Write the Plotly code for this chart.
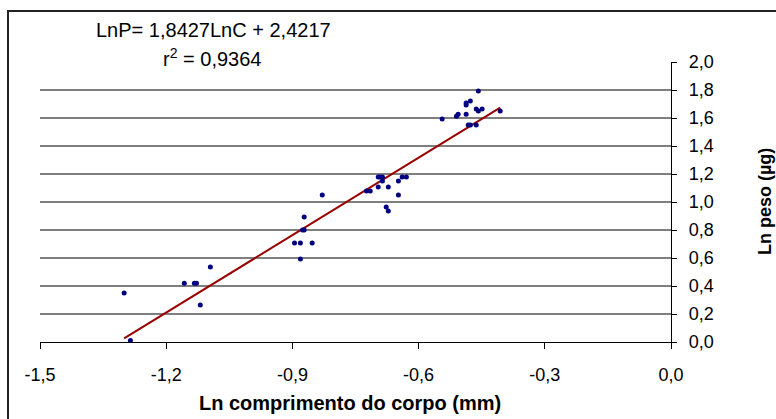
import plotly.graph_objects as go

# Data (Ln body length in mm, Ln weight in µg)
ln_c = [-1.300, -1.285, -1.157, -1.133, -1.128, -1.095, -1.119,
        -0.895, -0.881, -0.853, -0.881, -0.876, -0.872, -0.872, -0.829,
        -0.696, -0.691, -0.686, -0.639, -0.629, -0.686, -0.648, -0.696,
        -0.672, -0.724, -0.715, -0.648, -0.677, -0.672,
        -0.458, -0.477, -0.487, -0.487, -0.463, -0.458, -0.449, -0.406,
        -0.487, -0.506, -0.510, -0.544, -0.482, -0.477, -0.463]
ln_p = [0.350, 0.010, 0.420, 0.420, 0.420, 0.536, 0.264,
        0.707, 0.707, 0.707, 0.593, 0.800, 0.800, 0.893, 1.050,
        1.179, 1.179, 1.179, 1.179, 1.179, 1.150, 1.150, 1.107,
        1.107, 1.079, 1.079, 1.050, 0.964, 0.936,
        1.793, 1.721, 1.707, 1.693, 1.664, 1.650, 1.664, 1.650,
        1.626, 1.626, 1.612, 1.593, 1.550, 1.550, 1.550]

slope = 1.8427
intercept = 2.4217

x_ticks = [-1.5, -1.2, -0.9, -0.6, -0.3, 0.0]
x_tick_labels = ["-1,5", "-1,2", "-0,9", "-0,6", "-0,3", "0,0"]
y_ticks = [0.0, 0.2, 0.4, 0.6, 0.8, 1.0, 1.2, 1.4, 1.6, 1.8, 2.0]
y_tick_labels = ["0,0", "0,2", "0,4", "0,6", "0,8", "1,0", "1,2", "1,4", "1,6", "1,8", "2,0"]
grid_vals = [0.2, 0.4, 0.6, 0.8, 1.0, 1.2, 1.4, 1.6, 1.8]

fx = [min(ln_c), max(ln_c)]
fy = [slope * v + intercept for v in fx]

W, H = 776, 419
L, R, T, B = 40, 105, 62, 77
pw = W - L - R
ph = H - T - B

def px2paper_x(px):
    return (px - L) / pw

def px2paper_y(py):
    return (H - B - py) / ph

fig = go.Figure()
for v in grid_vals:
    fig.add_hline(y=v, line=dict(color="#000000", width=1.2), layer="below")

fig.add_trace(go.Scatter(x=fx, y=fy, mode="lines",
                         line=dict(color="#990000", width=2), showlegend=False))
fig.add_trace(go.Scatter(x=ln_c, y=ln_p, mode="markers",
                         marker=dict(color="#000080", size=5), showlegend=False))

font_main = "Liberation Sans, Arial, sans-serif"

fig.update_layout(
    width=W, height=H,
    margin=dict(l=L, r=R, t=T, b=B, autoexpand=False),
    paper_bgcolor="white", plot_bgcolor="white",
    font=dict(family=font_main, size=18, color="#000000"),
    xaxis=dict(range=[-1.5, 0.0], tickvals=x_ticks, ticktext=x_tick_labels,
               showgrid=False, zeroline=False, showline=True, linecolor="#000000",
               linewidth=1.2, ticks="outside", ticklen=6, tickcolor="#000000",
               tickfont=dict(size=18), ticklabelstandoff=10),
    yaxis=dict(range=[0.0, 2.0], tickvals=y_ticks, ticktext=y_tick_labels,
               side="right", showgrid=False, zeroline=False, showline=True,
               linecolor="#000000", linewidth=1.2, ticks="outside", ticklen=5,
               tickcolor="#000000", tickfont=dict(size=18), ticklabelstandoff=8),
)

fig.add_annotation(text="Ln comprimento do corpo (mm)", xref="paper", yref="paper",
                   x=px2paper_x(350), y=px2paper_y(403), showarrow=False,
                   font=dict(size=20, family=font_main, weight="bold"),
                   xanchor="center", yanchor="middle")
fig.add_annotation(text="Ln peso (µg)", xref="paper", yref="paper",
                   x=px2paper_x(765), y=px2paper_y(202), showarrow=False,
                   textangle=-90, font=dict(size=18, family=font_main, weight="bold"),
                   xanchor="center", yanchor="middle")
fig.add_annotation(text="LnP= 1,8427LnC + 2,4217", xref="paper", yref="paper",
                   x=px2paper_x(213), y=px2paper_y(30), showarrow=False,
                   font=dict(size=20, family=font_main),
                   xanchor="center", yanchor="middle")
fig.add_annotation(text="r<sup>2</sup> = 0,9364", xref="paper", yref="paper",
                   x=px2paper_x(212), y=px2paper_y(57), showarrow=False,
                   font=dict(size=20, family=font_main),
                   xanchor="center", yanchor="middle")

fig.add_shape(type="rect", xref="paper", yref="paper",
              x0=px2paper_x(8), x1=px2paper_x(790),
              y0=px2paper_y(430), y1=px2paper_y(11),
              line=dict(color="#222222", width=2), fillcolor="rgba(0,0,0,0)",
              layer="below")

fig.write_html("out.html")
